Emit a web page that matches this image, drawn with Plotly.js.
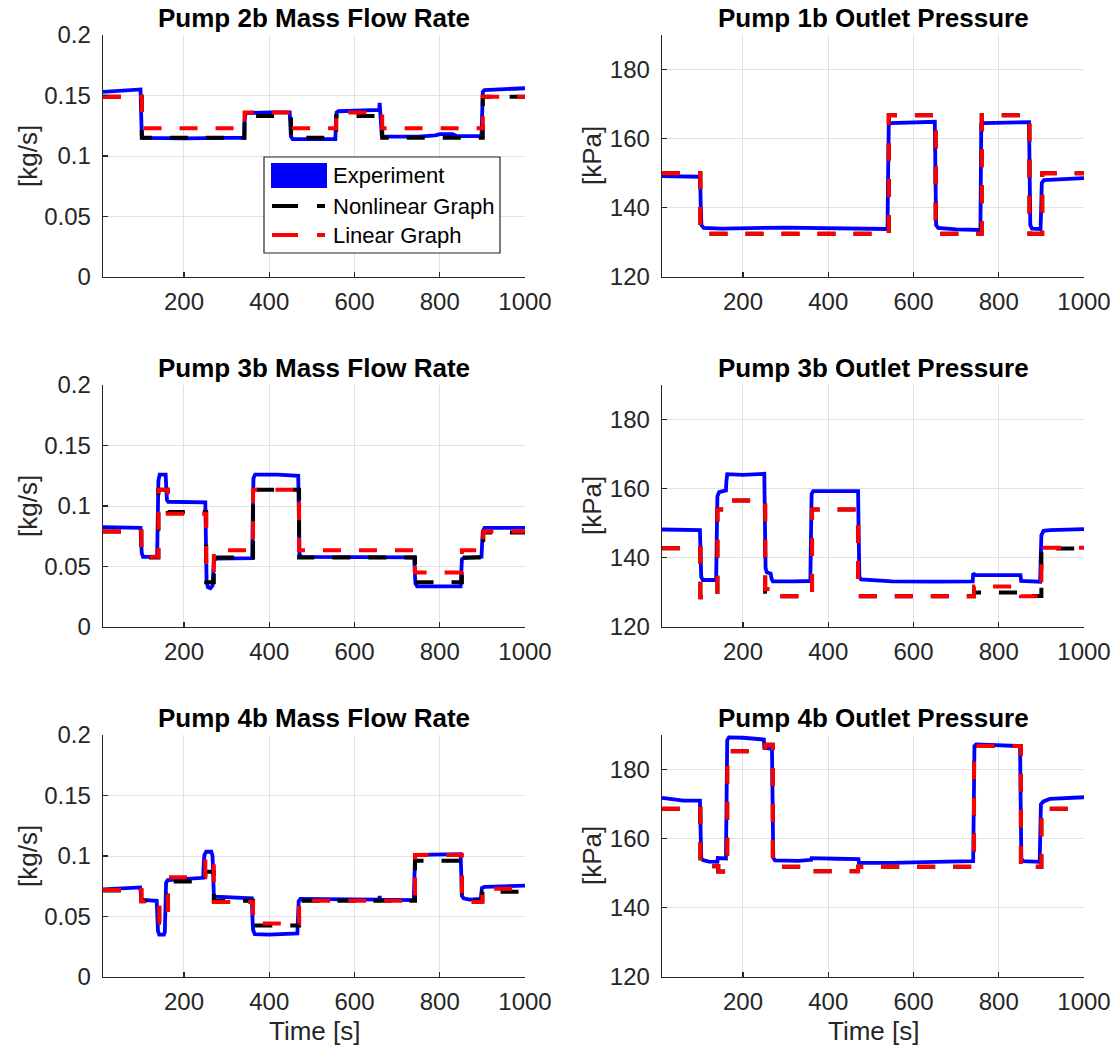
<!DOCTYPE html>
<html>
<head>
<meta charset="utf-8">
<script src="https://cdn.plot.ly/plotly-3.0.1.min.js"></script>
<style>
  html, body { margin: 0; padding: 0; background: #fff; }
  #chart { width: 1116px; height: 1055px; }
</style>
</head>
<body>
<div id="chart"></div>
<script>
// ---------- tick labels ----------
const timeTickVals = [200, 400, 600, 800, 1000];
const flowTickVals = [0, 0.05, 0.1, 0.15, 0.2];
const flowTickText = ['0', '0.05', '0.1', '0.15', '0.2'];
const presTickVals = [120, 140, 160, 180];
const presTickText = ['120', '140', '160', '180'];

// ---------- titles ----------
const panelTitles = [
  'Pump 2b Mass Flow Rate', 'Pump 1b Outlet Pressure',
  'Pump 3b Mass Flow Rate', 'Pump 3b Outlet Pressure',
  'Pump 4b Mass Flow Rate', 'Pump 4b Outlet Pressure'
];
const legendNames = ['Experiment', 'Nonlinear Graph', 'Linear Graph'];

// ---------- measured data: [time s, value] ----------
const exp2bFlow = [
  [10,0.153],[60,0.154],[98,0.155],[99.5,0.135],[101,0.117],[104,0.115],[200,0.1145],[300,0.115],
  [341,0.115],[342,0.128],[344,0.1355],[400,0.136],[448,0.136],[449.5,0.125],[451,0.116],[455,0.114],[500,0.114],
  [555,0.114],[556.5,0.127],[558,0.136],[562,0.137],[600,0.1375],[658,0.138],[659,0.144],[660,0.138],[661,0.137],
  [662.5,0.125],[664,0.117],[668,0.116],[750,0.116],[790,0.117],[800,0.118],[830,0.118],[840,0.1165],[898,0.1165],
  [899.5,0.135],[901,0.153],[905,0.1545],[950,0.155],[1000,0.156]
];
const exp1bPres = [
  [10,149.2],[60,149.1],[99.5,149.0],[101,140],[102.5,135],[108,134.2],[150,134.0],[300,134.3],[450,133.9],
  [539,133.9],[540.5,150],[542,164.0],[546,164.5],[600,164.6],[650,164.9],[651.5,150],[653,135],[658,134.2],[700,133.8],
  [757,133.6],[758,150],[759,164.2],[763,164.5],[800,164.6],[871,164.8],[872.5,150],[874,135],[878,134.0],[898,133.9],
  [899.5,140],[901,147.2],[906,148.0],[950,148.3],[1000,148.6]
];
const exp3bFlow = [
  [10,0.0825],[60,0.0825],[98,0.082],[99.5,0.070],[101,0.061],[104,0.058],[137,0.058],[138.5,0.090],
  [140,0.121],[143,0.126],[157,0.126],[158.5,0.115],[160,0.105],[163,0.1035],[200,0.1035],[250,0.103],[251.5,0.070],
  [253,0.038],[256,0.033],[262,0.032],[267,0.034],[268.5,0.050],[270,0.0545],[275,0.0565],[320,0.057],[360,0.057],[361.5,0.095],
  [363,0.123],[367,0.126],[420,0.126],[468,0.125],[469.5,0.090],[471,0.060],[475,0.058],[600,0.0575],[740,0.0575],[741.5,0.045],
  [743,0.036],[747,0.0335],[800,0.0335],[849,0.0335],[850.5,0.045],[852,0.056],[856,0.057],[880,0.0575],[898,0.058],[899.5,0.070],
  [901,0.079],[905,0.082],[1000,0.082]
];
const exp3bPres = [
  [10,148.2],[60,148.2],[99,148.0],[100.5,141],[102,134.5],[106,133.6],[137,133.6],[138.5,146],
  [140,157.8],[144,159.0],[160,159.5],[161,162],[163,164.2],[200,164.0],[250,164.3],[251.5,150],
  [253,137],[256,135.8],[265,135.4],[267,134],[270,133.2],[320,133.2],[358,133.3],[359.5,146],[361,158.5],
  [365,159.3],[420,159.4],[470,159.3],[471.5,146],[473,134.5],[477,133.8],[550,133.2],[650,133.1],[739,133.2],[740,135.5],
  [744,135.1],[800,135.0],[851,135.0],[852.5,133.3],[880,133.1],[897,133.1],[898.5,140],[900,146.5],
  [905,147.8],[920,148.0],[1000,148.3]
];
const exp4bFlow = [
  [10,0.0725],[50,0.0735],[97,0.074],[98.5,0.070],[100,0.065],[103,0.0637],[120,0.0635],[136,0.063],[137.5,0.050],
  [139,0.038],[142,0.035],[153,0.035],[155,0.037],[156.5,0.060],[158,0.078],[162,0.080],[200,0.081],[245,0.082],[246.5,0.095],
  [248,0.101],[252,0.1035],[264,0.1035],[267,0.100],[268.5,0.075],[270,0.0675],[274,0.0665],[320,0.066],[359,0.065],[360.5,0.050],
  [362,0.039],[366,0.0355],[400,0.035],[466,0.036],[467.5,0.055],[469,0.0625],[473,0.0645],[600,0.0645],[658,0.064],[659,0.067],
  [660,0.064],[739,0.0635],[740.5,0.085],[742,0.099],[746,0.101],[800,0.1015],[849,0.1015],[850.5,0.085],[852,0.067],[856,0.065],
  [870,0.064],[896,0.0645],[897.5,0.070],[899,0.0735],[905,0.0745],[950,0.075],[1000,0.0755]
];
const exp4bPres = [
  [10,171.8],[40,171.3],[60,171.0],[99,171.0],[100.5,162],[102,154.5],[106,153.8],[120,153.4],[140,153.3],
  [141,154.4],[160,154.3],[161.5,170],[163,188.5],[167,189.3],[200,189.2],[249,188.7],[250,186.3],[268,186.0],
  [269.5,170],[271,154.5],[275,153.7],[330,153.6],[360,153.9],[361,154.4],[420,154.2],[471,154.1],[472,153.0],
  [550,153.0],[650,153.3],[740,153.5],[741.5,170],[743,186.8],[747,187.3],[800,187.0],[850,186.8],[851.5,170],
  [853,154.3],[857,153.5],[880,153.4],[896,153.3],[897.5,162],[899,170.0],[905,170.8],[920,171.5],[1000,172.0]
];

// ---------- model outputs: step change times and held values ----------
const step2bFlowT = [10, 101, 342, 451, 557, 665, 901, 1000];
const nonlin2bFlow = [0.149, 0.115, 0.133, 0.115, 0.133, 0.115, 0.149, 0.149];
const lin2bFlow    = [0.149, 0.123, 0.136, 0.123, 0.136, 0.123, 0.149, 0.149];

const step1bPresT = [10, 100, 542, 652, 760, 872, 902, 1000];
const nonlin1bPres = [150, 132.5, 166.8, 132.5, 166.8, 132.5, 150, 150];
const lin1bPres    = [150, 132.5, 166.8, 132.5, 166.8, 132.5, 150, 150];

const step3bFlowT = [10, 100, 140, 162, 252, 270, 362, 470, 742, 852, 902, 1000];
const nonlin3bFlow = [0.079, 0.0575, 0.1135, 0.095, 0.037, 0.0575, 0.1135, 0.0575, 0.037, 0.0575, 0.078, 0.078];
const lin3bFlow    = [0.079, 0.0580, 0.1135, 0.0935, 0.0445, 0.0635, 0.1135, 0.0635, 0.045, 0.0635, 0.079, 0.079];

const step3bPresT = [10, 100, 140, 165, 252, 270, 362, 470, 742, 852, 900, 1000];
const nonlin3bPres = [142.8, 128.6, 154.0, 156.6, 130.2, 128.9, 154.0, 128.9, 130.0, 129.0, 142.7, 142.7];
const lin3bPres    = [142.8, 128.6, 154.0, 156.6, 131.0, 128.9, 154.0, 128.9, 131.7, 128.9, 142.9, 142.9];

const step4bFlowT = [10, 100, 142, 162, 250, 270, 362, 470, 742, 852, 900, 1000];
const nonlin4bFlow = [0.0715, 0.063, 0.045, 0.079, 0.087, 0.063, 0.0425, 0.063, 0.096, 0.063, 0.0705, 0.0705];
const lin4bFlow    = [0.072, 0.0625, 0.045, 0.0825, 0.099, 0.062, 0.0443, 0.063, 0.1008, 0.062, 0.073, 0.073];

const step4bPresT = [10, 100, 142, 163, 252, 270, 362, 470, 742, 852, 900, 1000];
const nonlin4bPres = [168.7, 152.0, 150.5, 185.3, 187.2, 151.9, 150.6, 151.9, 186.8, 151.9, 168.7, 168.7];
const lin4bPres    = [168.7, 152.0, 150.5, 185.3, 187.2, 151.9, 150.6, 151.9, 186.8, 151.9, 168.7, 168.7];

// ---------- figure geometry ----------
const W = 1116, H = 1055;
const colPx = [[103, 525], [662, 1084]];
const rowPx = [[35, 277], [385, 627], [735, 977]];
const FONT = 'Liberation Sans, Arial, Helvetica, sans-serif';
const INK = '#262626';
const px = v => v / W;
const py = v => 1 - v / H;

const panels = [
  { exp: exp2bFlow, t: step2bFlowT, nonlin: nonlin2bFlow, lin: lin2bFlow, kind: 'flow' },
  { exp: exp1bPres, t: step1bPresT, nonlin: nonlin1bPres, lin: lin1bPres, kind: 'pres' },
  { exp: exp3bFlow, t: step3bFlowT, nonlin: nonlin3bFlow, lin: lin3bFlow, kind: 'flow' },
  { exp: exp3bPres, t: step3bPresT, nonlin: nonlin3bPres, lin: lin3bPres, kind: 'pres' },
  { exp: exp4bFlow, t: step4bFlowT, nonlin: nonlin4bFlow, lin: lin4bFlow, kind: 'flow' },
  { exp: exp4bPres, t: step4bPresT, nonlin: nonlin4bPres, lin: lin4bPres, kind: 'pres' }
];

const traces = [];
const layout = {
  width: W, height: H,
  margin: { l: 0, r: 0, t: 0, b: 0 },
  paper_bgcolor: '#ffffff', plot_bgcolor: '#ffffff',
  showlegend: false,
  font: { family: FONT, color: INK },
  annotations: [], shapes: []
};

const DASH = '18px,18px';

panels.forEach((p, i) => {
  const n = i + 1;
  const col = i % 2, row = Math.floor(i / 2);
  const xa = 'x' + (n === 1 ? '' : n), ya = 'y' + (n === 1 ? '' : n);
  const xKey = 'xaxis' + (n === 1 ? '' : n), yKey = 'yaxis' + (n === 1 ? '' : n);
  const isFlow = p.kind === 'flow';

  traces.push({
    x: p.exp.map(d => d[0]), y: p.exp.map(d => d[1]),
    xaxis: xa, yaxis: ya, mode: 'lines', name: legendNames[0],
    line: { color: '#0000ff', width: 3.8 }, hoverinfo: 'skip'
  });
  traces.push({
    x: p.t, y: p.nonlin, xaxis: xa, yaxis: ya, mode: 'lines', name: legendNames[1],
    line: { color: '#000000', width: 4, dash: DASH, shape: 'hv' }, hoverinfo: 'skip'
  });
  traces.push({
    x: p.t, y: p.lin, xaxis: xa, yaxis: ya, mode: 'lines', name: legendNames[2],
    line: { color: '#ff0000', width: 4, dash: DASH, shape: 'hv' }, hoverinfo: 'skip'
  });

  const common = {
    showgrid: true, gridcolor: '#e2e2e2', gridwidth: 1,
    showline: true, linecolor: INK, linewidth: 1.3, mirror: false,
    ticks: 'inside', ticklen: 5, tickwidth: 1.2, tickcolor: INK,
    tickfont: { family: FONT, size: 24, color: INK },
    zeroline: false, fixedrange: true, automargin: false
  };
  layout[xKey] = Object.assign({}, common, {
    domain: [px(colPx[col][0]), px(colPx[col][1])],
    range: [10, 1000], tickmode: 'array', tickvals: timeTickVals,
    anchor: ya, ticklabelstandoff: 3
  });
  layout[yKey] = Object.assign({}, common, {
    domain: [py(rowPx[row][1]), py(rowPx[row][0])],
    range: isFlow ? [0, 0.2] : [120, 190],
    tickmode: 'array',
    tickvals: isFlow ? flowTickVals : presTickVals,
    ticktext: isFlow ? flowTickText : presTickText,
    anchor: xa, ticklabelstandoff: 6
  });

  const cx = (colPx[col][0] + colPx[col][1]) / 2;
  const cy = (rowPx[row][0] + rowPx[row][1]) / 2;
  // panel title
  layout.annotations.push({
    xref: 'paper', yref: 'paper', x: px(cx), y: py(rowPx[row][0] - 17),
    xanchor: 'center', yanchor: 'middle', showarrow: false,
    text: '<b>' + panelTitles[i] + '</b>',
    font: { family: FONT, size: 26, color: '#000000' }
  });
  // y-axis label
  layout.annotations.push({
    xref: 'paper', yref: 'paper', x: px(col === 0 ? 28 : 592), y: py(cy),
    xanchor: 'center', yanchor: 'middle', showarrow: false, textangle: -90,
    text: isFlow ? '[kg/s]' : '[kPa]',
    font: { family: FONT, size: 26, color: INK }
  });
  // x-axis label on the bottom row
  if (row === 2) {
    layout.annotations.push({
      xref: 'paper', yref: 'paper', x: px(cx), y: py(rowPx[row][1] + 54),
      xanchor: 'center', yanchor: 'middle', showarrow: false,
      text: 'Time [s]', font: { family: FONT, size: 26, color: INK }
    });
  }
});

// ---------- legend box inside the first panel ----------
const lg = { x0: 264, x1: 500, y0: 157, y1: 253 };
layout.shapes.push({
  type: 'rect', xref: 'paper', yref: 'paper',
  x0: px(lg.x0), x1: px(lg.x1), y0: py(lg.y1), y1: py(lg.y0),
  fillcolor: '#ffffff', line: { color: INK, width: 1.2 }, layer: 'above'
});
layout.shapes.push({
  type: 'rect', xref: 'paper', yref: 'paper',
  x0: px(271), x1: px(327), y0: py(188), y1: py(163),
  fillcolor: '#0000ff', line: { width: 0 }, layer: 'above'
});
const legendRows = [{ y: 206, color: '#000000' }, { y: 235, color: '#ff0000' }];
legendRows.forEach(r => {
  [[272, 298], [317, 325]].forEach(seg => {
    layout.shapes.push({
      type: 'line', xref: 'paper', yref: 'paper',
      x0: px(seg[0]), x1: px(seg[1]), y0: py(r.y), y1: py(r.y),
      line: { color: r.color, width: 4 }, layer: 'above'
    });
  });
});
[176, 206, 236].forEach((yy, k) => {
  layout.annotations.push({
    xref: 'paper', yref: 'paper', x: px(331), y: py(yy),
    xanchor: 'left', yanchor: 'middle', showarrow: false,
    text: legendNames[k], font: { family: FONT, size: 22, color: '#000000' }
  });
});

Plotly.newPlot('chart', traces, layout, { staticPlot: true, displayModeBar: false });
</script>
</body>
</html>
